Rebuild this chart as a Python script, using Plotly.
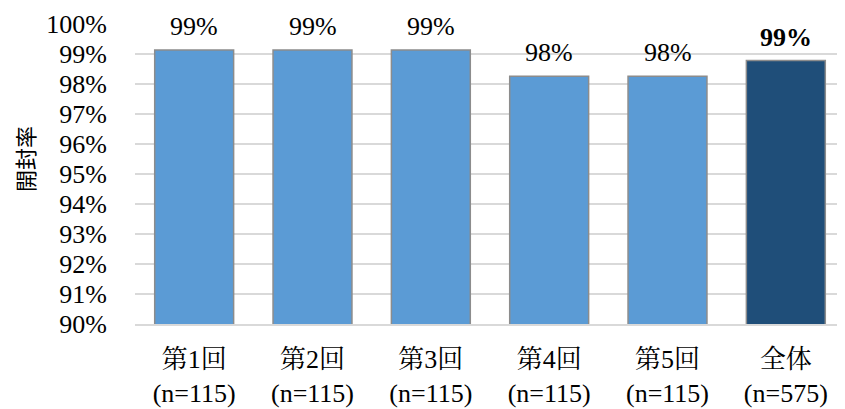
import plotly.graph_objects as go

categories = ["第1回<br>(n=115)", "第2回<br>(n=115)", "第3回<br>(n=115)",
              "第4回<br>(n=115)", "第5回<br>(n=115)", "全体<br>(n=575)"]
open_rate = [99.13, 99.13, 99.13, 98.26, 98.26, 98.78]
bar_colors = ["#5B9BD5", "#5B9BD5", "#5B9BD5", "#5B9BD5", "#5B9BD5", "#1F4E79"]
y_ticks = list(range(90, 101))
y_tick_labels = [f"{v}%" for v in y_ticks]

FONT = "Times New Roman, Liberation Serif, Noto Serif CJK JP, Noto Sans CJK JP, serif"

fig = go.Figure()
fig.add_trace(go.Bar(
    x=categories, y=open_rate,
    marker=dict(color=bar_colors, line=dict(color="#8C8C8C", width=1.5)),
    hoverinfo="skip",
))

for i, (c, v) in enumerate(zip(categories, open_rate)):
    label = f"{v:.0f}%"
    if i == len(categories) - 1:
        label = f"<b>{label}</b>"
    fig.add_annotation(x=c, y=v, text=label, showarrow=False,
                       yanchor="bottom", yshift=7,
                       font=dict(family=FONT, size=26, color="#000000"))

# page body has an 8px margin; figure is sized/offset to compensate
fig.add_annotation(xref="paper", yref="paper", x=(16 - 127) / 710, y=0.55,
                   text="開封率", textangle=-90, showarrow=False,
                   xanchor="center", yanchor="middle",
                   font=dict(family="Noto Sans CJK JP", size=22, color="#000000"))

fig.update_layout(
    width=837, height=401,
    margin=dict(l=127, r=0, t=16, b=85, autoexpand=False),
    paper_bgcolor="white", plot_bgcolor="white",
    bargap=0.333,
    showlegend=False,
    font=dict(family=FONT, size=26, color="#000000"),
)
fig.update_xaxes(
    showgrid=False, showline=True, linecolor="#D9D9D9", linewidth=2,
    ticks="", tickfont=dict(family=FONT, size=26, color="#000000"),
    ticklabelstandoff=11, automargin=False,
)
fig.update_yaxes(
    range=[90, 100], tickvals=y_ticks, ticktext=y_tick_labels,
    showgrid=True, gridcolor="#D9D9D9", gridwidth=1.5,
    zeroline=False, showline=False,
    ticks="outside", ticklen=0, ticklabelstandoff=22,
    tickfont=dict(family=FONT, size=26, color="#000000"),
    automargin=False,
)

fig.write_html("out.html")
